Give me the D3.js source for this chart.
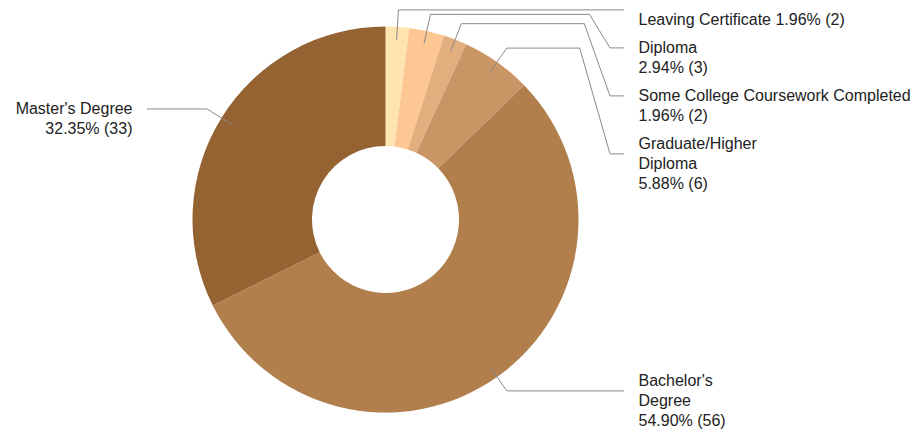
<!DOCTYPE html>
<html>
<head>
<meta charset="utf-8">
<script src="https://cdn.jsdelivr.net/npm/d3@7"></script>
<style>
  body { margin: 0; background: #fff; }
  .chart text { font-family: "Liberation Sans", Arial, sans-serif; font-size: 16px; fill: #222; }
</style>
</head>
<body>
<div class="chart"></div>
<script>
// data
var categories = ["Leaving Certificate", "Diploma", "Some College Coursework Completed",
  "Graduate/Higher Diploma", "Bachelor's Degree", "Master's Degree"];
var counts = [2, 3, 2, 6, 56, 33];
// how each name wraps in the picture
var nameLines = [
  ["Leaving Certificate"],
  ["Diploma"],
  ["Some College Coursework Completed"],
  ["Graduate/Higher", "Diploma"],
  ["Bachelor's", "Degree"],
  ["Master's Degree"]
];
var valueOnSameLine = [true, false, false, false, false, false];
var colors = ["#ffe4b0", "#fdc793", "#e3ae7e", "#ca9565", "#b07f4c", "#956232"];

var svgWidth = 917;
var svgHeight = 430;

var cx = 385.5, cy = 219.5;
var outerR = 193, innerR = 73.5;
var lineH = 20, capH = 11.5, blockGap = 8;

var svg = d3.select(".chart")
  .append("svg")
  .attr("width", svgWidth)
  .attr("height", svgHeight);

var total = d3.sum(counts);
var fmtPct = d3.format(".2%");

var pie = d3.pie().sort(null).value(d => d);
var arcs = pie(counts);

var arc = d3.arc().innerRadius(innerR).outerRadius(outerR);

var g = svg.append("g").attr("transform", `translate(${cx}, ${cy})`);

g.selectAll("path.slice")
  .data(arcs)
  .enter()
  .append("path")
  .attr("class", "slice")
  .attr("d", arc)
  .attr("fill", (d, i) => colors[i]);

// point on the circle of radius rr at the slice middle
function polar(a, rr) {
  return [cx + rr * Math.sin(a), cy - rr * Math.cos(a)];
}

var labels = arcs.map(function(d, i) {
  var mid = (d.startAngle + d.endAngle) / 2;
  var pct = fmtPct(counts[i] / total) + " (" + counts[i] + ")";
  var lines = nameLines[i].slice();
  if (valueOnSameLine[i]) {
    lines[lines.length - 1] += " " + pct;
  } else {
    lines.push(pct);
  }
  return {
    i: i,
    mid: mid,
    right: mid < Math.PI,
    inner: polar(mid, 180),
    elbow: polar(mid, 210),
    lines: lines
  };
});

// stack labels down each side so they don't overlap
function layout(items) {
  var prevBottom = -Infinity;
  items.forEach(function(d) {
    var n = d.lines.length;
    var top = Math.max(d.elbow[1] - 10 * n + 14, prevBottom);
    d.top = top;
    d.connY = top + 10 * n - 14;
    prevBottom = top + lineH * n + blockGap;
  });
}

var rightLabels = labels.filter(d => d.right).sort((a, b) => a.mid - b.mid);
var leftLabels = labels.filter(d => !d.right).sort((a, b) => b.mid - a.mid);
layout(rightLabels);
layout(leftLabels);

var lineEnd = 238.5, textGap = 14.5;

labels.forEach(function(d) {
  var dir = d.right ? 1 : -1;
  var endX = cx + dir * lineEnd;
  var pts = [d.inner, d.elbow];
  var dy = d.connY - d.elbow[1];
  if (Math.abs(dy) > 1) {
    var bendX = endX - dir * 14;
    var turnX = bendX - dir * (16 + 0.135 * dy);
    pts.push([turnX, d.elbow[1]]);
    pts.push([bendX, d.connY]);
  }
  pts.push([endX, d.connY]);

  svg.append("path")
    .attr("d", d3.line()(pts))
    .attr("fill", "none")
    .attr("stroke", "#8a8a8a")
    .attr("stroke-width", 1);

  var t = svg.append("text")
    .attr("text-anchor", d.right ? "start" : "end");
  d.lines.forEach(function(s, k) {
    t.append("tspan")
      .attr("x", endX + dir * textGap)
      .attr("y", d.top + capH + k * lineH)
      .text(s);
  });
});
</script>
</body>
</html>
